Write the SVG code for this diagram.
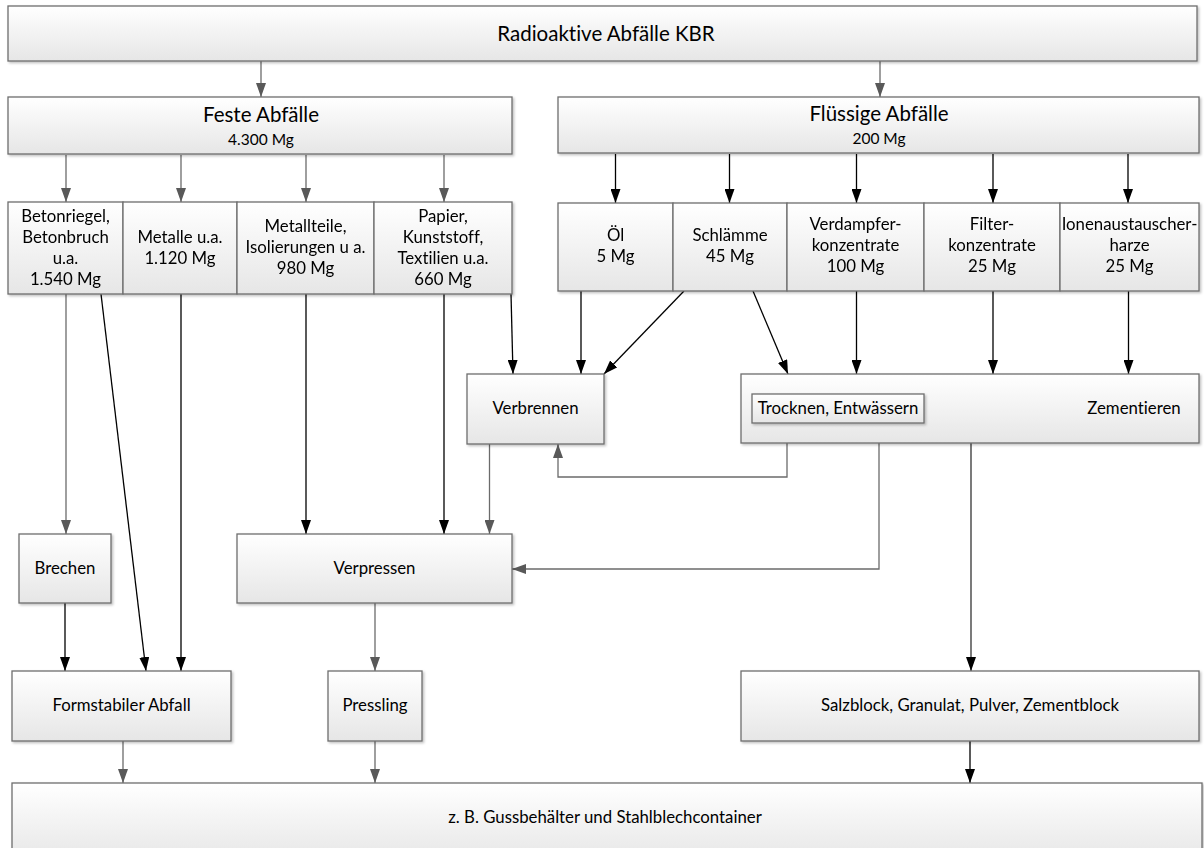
<svg xmlns="http://www.w3.org/2000/svg" width="1204" height="848" viewBox="0 0 1204 848">
<defs>
<linearGradient id="g" x1="0" y1="0" x2="0" y2="1">
<stop offset="0" stop-color="#ffffff"/>
<stop offset="1" stop-color="#e6e6e6"/>
</linearGradient>
<filter id="sh" x="-5%" y="-5%" width="110%" height="120%">
<feDropShadow dx="1.5" dy="1.5" stdDeviation="1" flood-color="#000" flood-opacity="0.25"/>
</filter>
<marker id="ag" viewBox="0 0 14 10" refX="14" refY="5" markerWidth="14" markerHeight="10" markerUnits="userSpaceOnUse" orient="auto">
<path d="M0,0 L14,5 L0,10 z" fill="#595959"/>
</marker>
<marker id="ab" viewBox="0 0 14 10" refX="14" refY="5" markerWidth="14" markerHeight="10" markerUnits="userSpaceOnUse" orient="auto">
<path d="M0,0 L14,5 L0,10 z" fill="#000"/>
</marker>
</defs>
<style>
.box{fill:url(#g);stroke:#6e6e6e;stroke-width:1.3;filter:url(#sh)}
.cell{fill:url(#g);stroke:#6e6e6e;stroke-width:1.3}
text{font-family:Lato,"Open Sans","Liberation Sans",sans-serif;fill:#000;text-anchor:middle;font-variant-ligatures:none}
.t16{font-size:16.8px}
.t19{font-size:20.5px}
.t15{font-size:15.5px}
.cg{fill:none;stroke:#6b6b6b;stroke-width:1.3;marker-end:url(#ag)}
.cb{fill:none;stroke:#000;stroke-width:1.3;marker-end:url(#ab)}
.cd{fill:none;stroke:#333;stroke-width:1.3;marker-end:url(#ab)}
</style>
<rect width="1204" height="848" fill="#fff"/>

<g id="connectors">
<line class="cg" x1="261" y1="61" x2="261" y2="97"/>
<line class="cg" x1="880" y1="61" x2="880" y2="97"/>
<line class="cg" x1="66" y1="155" x2="66" y2="202"/>
<line class="cg" x1="181" y1="155" x2="181" y2="202"/>
<line class="cg" x1="306" y1="155" x2="306" y2="202"/>
<line class="cg" x1="444" y1="155" x2="444" y2="202"/>
<line class="cb" x1="615.5" y1="154" x2="615.5" y2="203"/>
<line class="cb" x1="729.5" y1="154" x2="729.5" y2="203"/>
<line class="cb" x1="856.5" y1="154" x2="856.5" y2="203"/>
<line class="cb" x1="993" y1="154" x2="993" y2="203"/>
<line class="cb" x1="1128" y1="154" x2="1128" y2="203"/>
<line class="cg" x1="66" y1="294" x2="66" y2="534"/>
<line class="cb" x1="101" y1="294" x2="146" y2="671"/>
<line class="cb" x1="181" y1="294" x2="181" y2="671"/>
<line class="cb" x1="306" y1="294" x2="306" y2="534"/>
<line class="cb" x1="444" y1="294" x2="444" y2="534"/>
<line class="cb" x1="511" y1="294" x2="513" y2="374"/>
<line class="cb" x1="581" y1="291" x2="581" y2="374"/>
<line class="cb" x1="684" y1="291" x2="604" y2="374"/>
<line class="cb" x1="753" y1="291" x2="788" y2="374"/>
<line class="cb" x1="856.5" y1="291" x2="856.5" y2="374"/>
<line class="cb" x1="993" y1="291" x2="993" y2="374"/>
<line class="cb" x1="1128.5" y1="291" x2="1128.5" y2="374"/>
<polyline class="cg" points="787,423 787,477 558,477 558,444"/>
<polyline class="cg" points="879,423 879,569 512,569"/>
<line class="cg" x1="489.5" y1="444" x2="489.5" y2="534"/>
<line class="cd" x1="971" y1="443" x2="971" y2="671"/>
<line class="cb" x1="65" y1="603" x2="65" y2="671"/>
<line class="cg" x1="375" y1="603" x2="375" y2="671"/>
<line class="cg" x1="123" y1="741" x2="123" y2="783"/>
<line class="cg" x1="375" y1="741" x2="375" y2="783"/>
<line class="cb" x1="970" y1="741" x2="970" y2="783"/>
</g>

<g id="n-top"><rect class="box" x="8" y="6" width="1189" height="55"/><text class="t19" x="606" y="40.5">Radioaktive Abfälle KBR</text></g>

<g id="n-feste"><rect class="box" x="8" y="97" width="504" height="57"/><text class="t19" x="261" y="122">Feste Abfälle</text><text class="t15" x="261" y="145">4.300 Mg</text></g>

<g id="n-fluessig"><rect class="box" x="558" y="97" width="641" height="56"/><text class="t19" x="879" y="121">Flüssige Abfälle</text><text class="t15" x="879" y="144">200 Mg</text></g>

<g id="row-feste" filter="url(#sh)">
<g id="n-beton"><rect class="cell" x="8" y="202" width="115" height="92"/><text class="t16"><tspan x="65.5" y="221.5">Betonriegel,</tspan><tspan x="65.5" y="242.5">Betonbruch</tspan><tspan x="65.5" y="263.5">u.a.</tspan><tspan x="65.5" y="284.5">1.540 Mg</tspan></text></g>
<g id="n-metalle"><rect class="cell" x="123" y="202" width="114" height="92"/><text class="t16"><tspan x="180" y="242.5">Metalle u.a.</tspan><tspan x="180" y="263.5">1.120 Mg</tspan></text></g>
<g id="n-metallteile"><rect class="cell" x="237" y="202" width="137" height="92"/><text class="t16"><tspan x="305.5" y="232">Metallteile,</tspan><tspan x="305.5" y="253">Isolierungen u a.</tspan><tspan x="305.5" y="274">980 Mg</tspan></text></g>
<g id="n-papier"><rect class="cell" x="374" y="202" width="138" height="92"/><text class="t16"><tspan x="443" y="221.5">Papier,</tspan><tspan x="443" y="242.5">Kunststoff,</tspan><tspan x="443" y="263.5">Textilien u.a.</tspan><tspan x="443" y="284.5">660 Mg</tspan></text></g>
</g>

<g id="row-fluessig" filter="url(#sh)">
<g id="n-oel"><rect class="cell" x="558" y="203" width="115" height="88"/><text class="t16"><tspan x="615.5" y="240.5">Öl</tspan><tspan x="615.5" y="261.5">5 Mg</tspan></text></g>
<g id="n-schlaemme"><rect class="cell" x="673" y="203" width="114" height="88"/><text class="t16"><tspan x="730" y="240.5">Schlämme</tspan><tspan x="730" y="261.5">45 Mg</tspan></text></g>
<g id="n-verdampfer"><rect class="cell" x="787" y="203" width="137" height="88"/><text class="t16"><tspan x="855.5" y="230">Verdampfer-</tspan><tspan x="855.5" y="251">konzentrate</tspan><tspan x="855.5" y="272">100 Mg</tspan></text></g>
<g id="n-filter"><rect class="cell" x="924" y="203" width="136" height="88"/><text class="t16"><tspan x="992" y="230">Filter-</tspan><tspan x="992" y="251">konzentrate</tspan><tspan x="992" y="272">25 Mg</tspan></text></g>
<g id="n-ionen"><rect class="cell" x="1060" y="203" width="139" height="88"/><text class="t16"><tspan x="1129.5" y="230">Ionenaustauscher-</tspan><tspan x="1129.5" y="251">harze</tspan><tspan x="1129.5" y="272">25 Mg</tspan></text></g>
</g>

<g id="n-verbrennen"><rect class="box" x="467" y="374" width="137" height="70"/><text class="t16" x="535.5" y="414">Verbrennen</text></g>

<g id="n-zementieren"><rect class="box" x="741" y="374" width="458" height="69"/><text class="t16" x="1134" y="414">Zementieren</text></g>

<g id="n-trocknen"><rect class="box" x="752" y="394" width="172" height="29"/><text class="t16" x="838" y="414">Trocknen, Entwässern</text></g>

<g id="n-brechen"><rect class="box" x="19" y="534" width="92" height="69"/><text class="t16" x="65" y="574">Brechen</text></g>

<g id="n-verpressen"><rect class="box" x="237" y="534" width="275" height="69"/><text class="t16" x="374.5" y="574">Verpressen</text></g>

<g id="n-formstabil"><rect class="box" x="12" y="671" width="219" height="70"/><text class="t16" x="121.5" y="711">Formstabiler Abfall</text></g>

<g id="n-pressling"><rect class="box" x="328" y="671" width="94" height="70"/><text class="t16" x="375" y="711">Pressling</text></g>

<g id="n-salzblock"><rect class="box" x="741" y="671" width="458" height="70"/><text class="t16" x="970" y="711">Salzblock, Granulat, Pulver, Zementblock</text></g>

<g id="n-container"><rect class="box" x="12" y="783" width="1190" height="80"/><text class="t16" x="605" y="823">z. B. Gussbehälter und Stahlblechcontainer</text></g>
</svg>
